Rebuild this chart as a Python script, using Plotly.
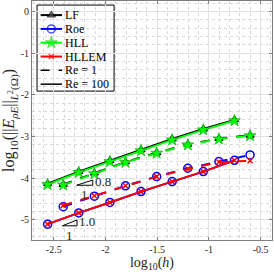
import plotly.graph_objects as go

# grid sizes (log10 h)
h_re1 = [-2.408, -2.107, -1.806, -1.505, -1.204, -0.903, -0.602]
h_re100 = [-2.559, -2.258, -1.957, -1.656, -1.355, -1.054, -0.753]

# log10 errors
lf_re1 = [-4.15, -3.88, -3.61, -3.39, -3.19, -3.05, -2.97]
lf_re100 = [-4.13, -3.84, -3.58, -3.32, -3.06, -2.82, -2.60]
roe_re1 = [-4.68, -4.43, -4.18, -3.96, -3.76, -3.60, -3.44]
roe_re100 = [-5.10, -4.83, -4.58, -4.32, -4.08, -3.84, -3.57]
hll_re1 = [-4.16, -3.89, -3.62, -3.40, -3.20, -3.06, -2.98]
hll_re100 = [-4.15, -3.86, -3.60, -3.34, -3.08, -2.84, -2.62]
hllem_re1 = [-4.65, -4.42, -4.18, -3.96, -3.78, -3.61, -3.58]
hllem_re100 = [-5.10, -4.83, -4.58, -4.32, -4.08, -3.84, -3.57]

x_ticks = [-2.5, -2, -1.5, -1, -0.5]
x_ticktext = ["-2.5", "-2", "-1.5", "-1", "-0.5"]
y_ticks = [0, -1, -2, -3, -4, -5]
y_ticktext = ["0", "-1", "-2", "-3", "-4", "-5"]

# slope triangles
tri_x0 = [-2.278, -2.416]
tri_run = [0.155, 0.141]
tri_y0 = [-4.167, -5.14]
tri_slope = [0.8, 1.0]
tri_label = ["0.8", "1.0"]

legend_labels = ["LF", "Roe", "HLL", "HLLEM", "Re = 1", "Re = 100"]

FONT = "Liberation Serif"

methods = [
    ("LF", "black", "triangle-up", 7, lf_re1, lf_re100),
    ("Roe", "blue", "circle-open", 8, roe_re1, roe_re100),
    ("HLL", "#00ff00", "star", 9, hll_re1, hll_re100),
    ("HLLEM", "red", "x-thin-open", 5, hllem_re1, hllem_re100),
]


def marker(col, sym, sz):
    if sym == "star":
        return dict(symbol=sym, size=sz, color=col, line=dict(color="#00a000", width=0.6))
    if sym == "triangle-up":
        return dict(symbol=sym, size=sz, color="#555555", line=dict(color="black", width=1.2))
    return dict(symbol=sym, size=sz, color=col, line=dict(color=col, width=1.5))


fig = go.Figure()
for name, col, sym, sz, y1, y100 in methods:
    mk = marker(col, sym, sz)
    fig.add_trace(go.Scatter(x=h_re1, y=y1, mode="lines+markers", name=name + " Re=1",
                             line=dict(color=col, width=2, dash="dash"),
                             marker=mk, showlegend=False))
    fig.add_trace(go.Scatter(x=h_re100, y=y100, mode="lines+markers", name=name + " Re=100",
                             line=dict(color=col, width=2),
                             marker=mk, showlegend=False))

# slope triangles
for x0, run, y0, s, lab in zip(tri_x0, tri_run, tri_y0, tri_slope, tri_label):
    x1 = x0 + run
    yt = y0 + s * run
    fig.add_trace(go.Scatter(x=[x0, x1, x1, x0], y=[y0, y0, yt, y0], mode="lines",
                             line=dict(color="black", width=1), showlegend=False,
                             hoverinfo="skip"))
    fig.add_annotation(x=x1, y=(y0 + yt) / 2, text=lab, showarrow=False,
                       xanchor="left", yanchor="middle", xshift=0, yshift=1,
                       font=dict(family=FONT, size=13, color="#262626"))
    fig.add_annotation(x=(x0 + x1) / 2, y=y0, text="1", showarrow=False,
                       xanchor="center", yanchor="top", yshift=0,
                       font=dict(family=FONT, size=13, color="#262626"))

# ---- custom legend (drawn on an overlay axis spanning 0..1 of the plot area) ----
L_X0, L_X1, L_YT, L_YB = 0.021, 0.342, 0.983, 0.623
ROW_TOP, ROW_STEP = 0.941, 0.0578
S_X0, S_X1, T_X = 0.036, 0.125, 0.13

fig.add_shape(type="rect", xref="paper", yref="paper", x0=L_X0, x1=L_X1, y0=L_YB, y1=L_YT,
              line=dict(color="black", width=1), fillcolor="white", layer="between")

legend_styles = [(m[1], marker(m[1], m[2], m[3]), "solid") for m in methods]
legend_styles += [("black", None, "dash"), ("black", None, "solid")]
for i, (lab, (col, mk, dash)) in enumerate(zip(legend_labels, legend_styles)):
    yy = ROW_TOP - i * ROW_STEP
    if mk is not None:
        mk2 = dict(mk)
        mk2["size"] = [0, mk["size"], 0]
        fig.add_trace(go.Scatter(x=[S_X0, (S_X0 + S_X1) / 2, S_X1], y=[yy, yy, yy],
                                 mode="lines+markers", xaxis="x2", yaxis="y2",
                                 line=dict(color=col, width=2, dash=dash), marker=mk2,
                                 showlegend=False, hoverinfo="skip"))
    else:
        fig.add_trace(go.Scatter(x=[S_X0, S_X1], y=[yy, yy], mode="lines",
                                 xaxis="x2", yaxis="y2",
                                 line=dict(color=col, width=1.5, dash=dash),
                                 showlegend=False, hoverinfo="skip"))
    fig.add_annotation(x=T_X, y=yy, xref="x2", yref="y2", text=lab, showarrow=False,
                       xanchor="left", yanchor="middle",
                       font=dict(family=FONT, size=12, color="black"))

axis_common = dict(
    showline=True, linecolor="#7f7f7f", linewidth=1, mirror="ticks",
    ticks="inside", ticklen=3, tickcolor="#7f7f7f", automargin=False,
    showgrid=True, gridcolor="#e3e3e3", gridwidth=1, zeroline=False,
    tickfont=dict(family=FONT, size=10, color="#262626"),
)

fig.update_xaxes(range=[-2.71, -0.39], tickvals=x_ticks, ticktext=x_ticktext,
                 minor=dict(dtick=0.1, showgrid=True, griddash="dot", gridcolor="#d9d9d9"),
                 title=dict(text="log<sub>10</sub>(<i>h</i>)", standoff=1,
                            font=dict(family=FONT, size=14, color="#262626")),
                 **axis_common)
fig.update_yaxes(range=[-5.48, 0.25], tickvals=y_ticks, ticktext=y_ticktext,
                 minor=dict(dtick=0.2, showgrid=True, griddash="dot", gridcolor="#d9d9d9"),
                 title=dict(text="log<sub>10</sub>(||<i>E</i><sub><i>ρE</i></sub>||<sub><i>L</i><sup>2</sup>(Ω)</sub>)",
                            standoff=1, font=dict(family=FONT, size=16, color="#262626")),
                 **axis_common)

fig.update_layout(
    width=274, height=276,
    margin=dict(l=32, r=2, t=1, b=36, autoexpand=False),
    plot_bgcolor="white", paper_bgcolor="white",
    showlegend=False,
    xaxis2=dict(overlaying="x", range=[0, 1], visible=False, fixedrange=True),
    yaxis2=dict(overlaying="y", range=[0, 1], visible=False, fixedrange=True),
)

fig.write_html("out.html", config={"displayModeBar": False},
               post_script="document.body.style.margin='0px';document.body.style.overflow='hidden';")
